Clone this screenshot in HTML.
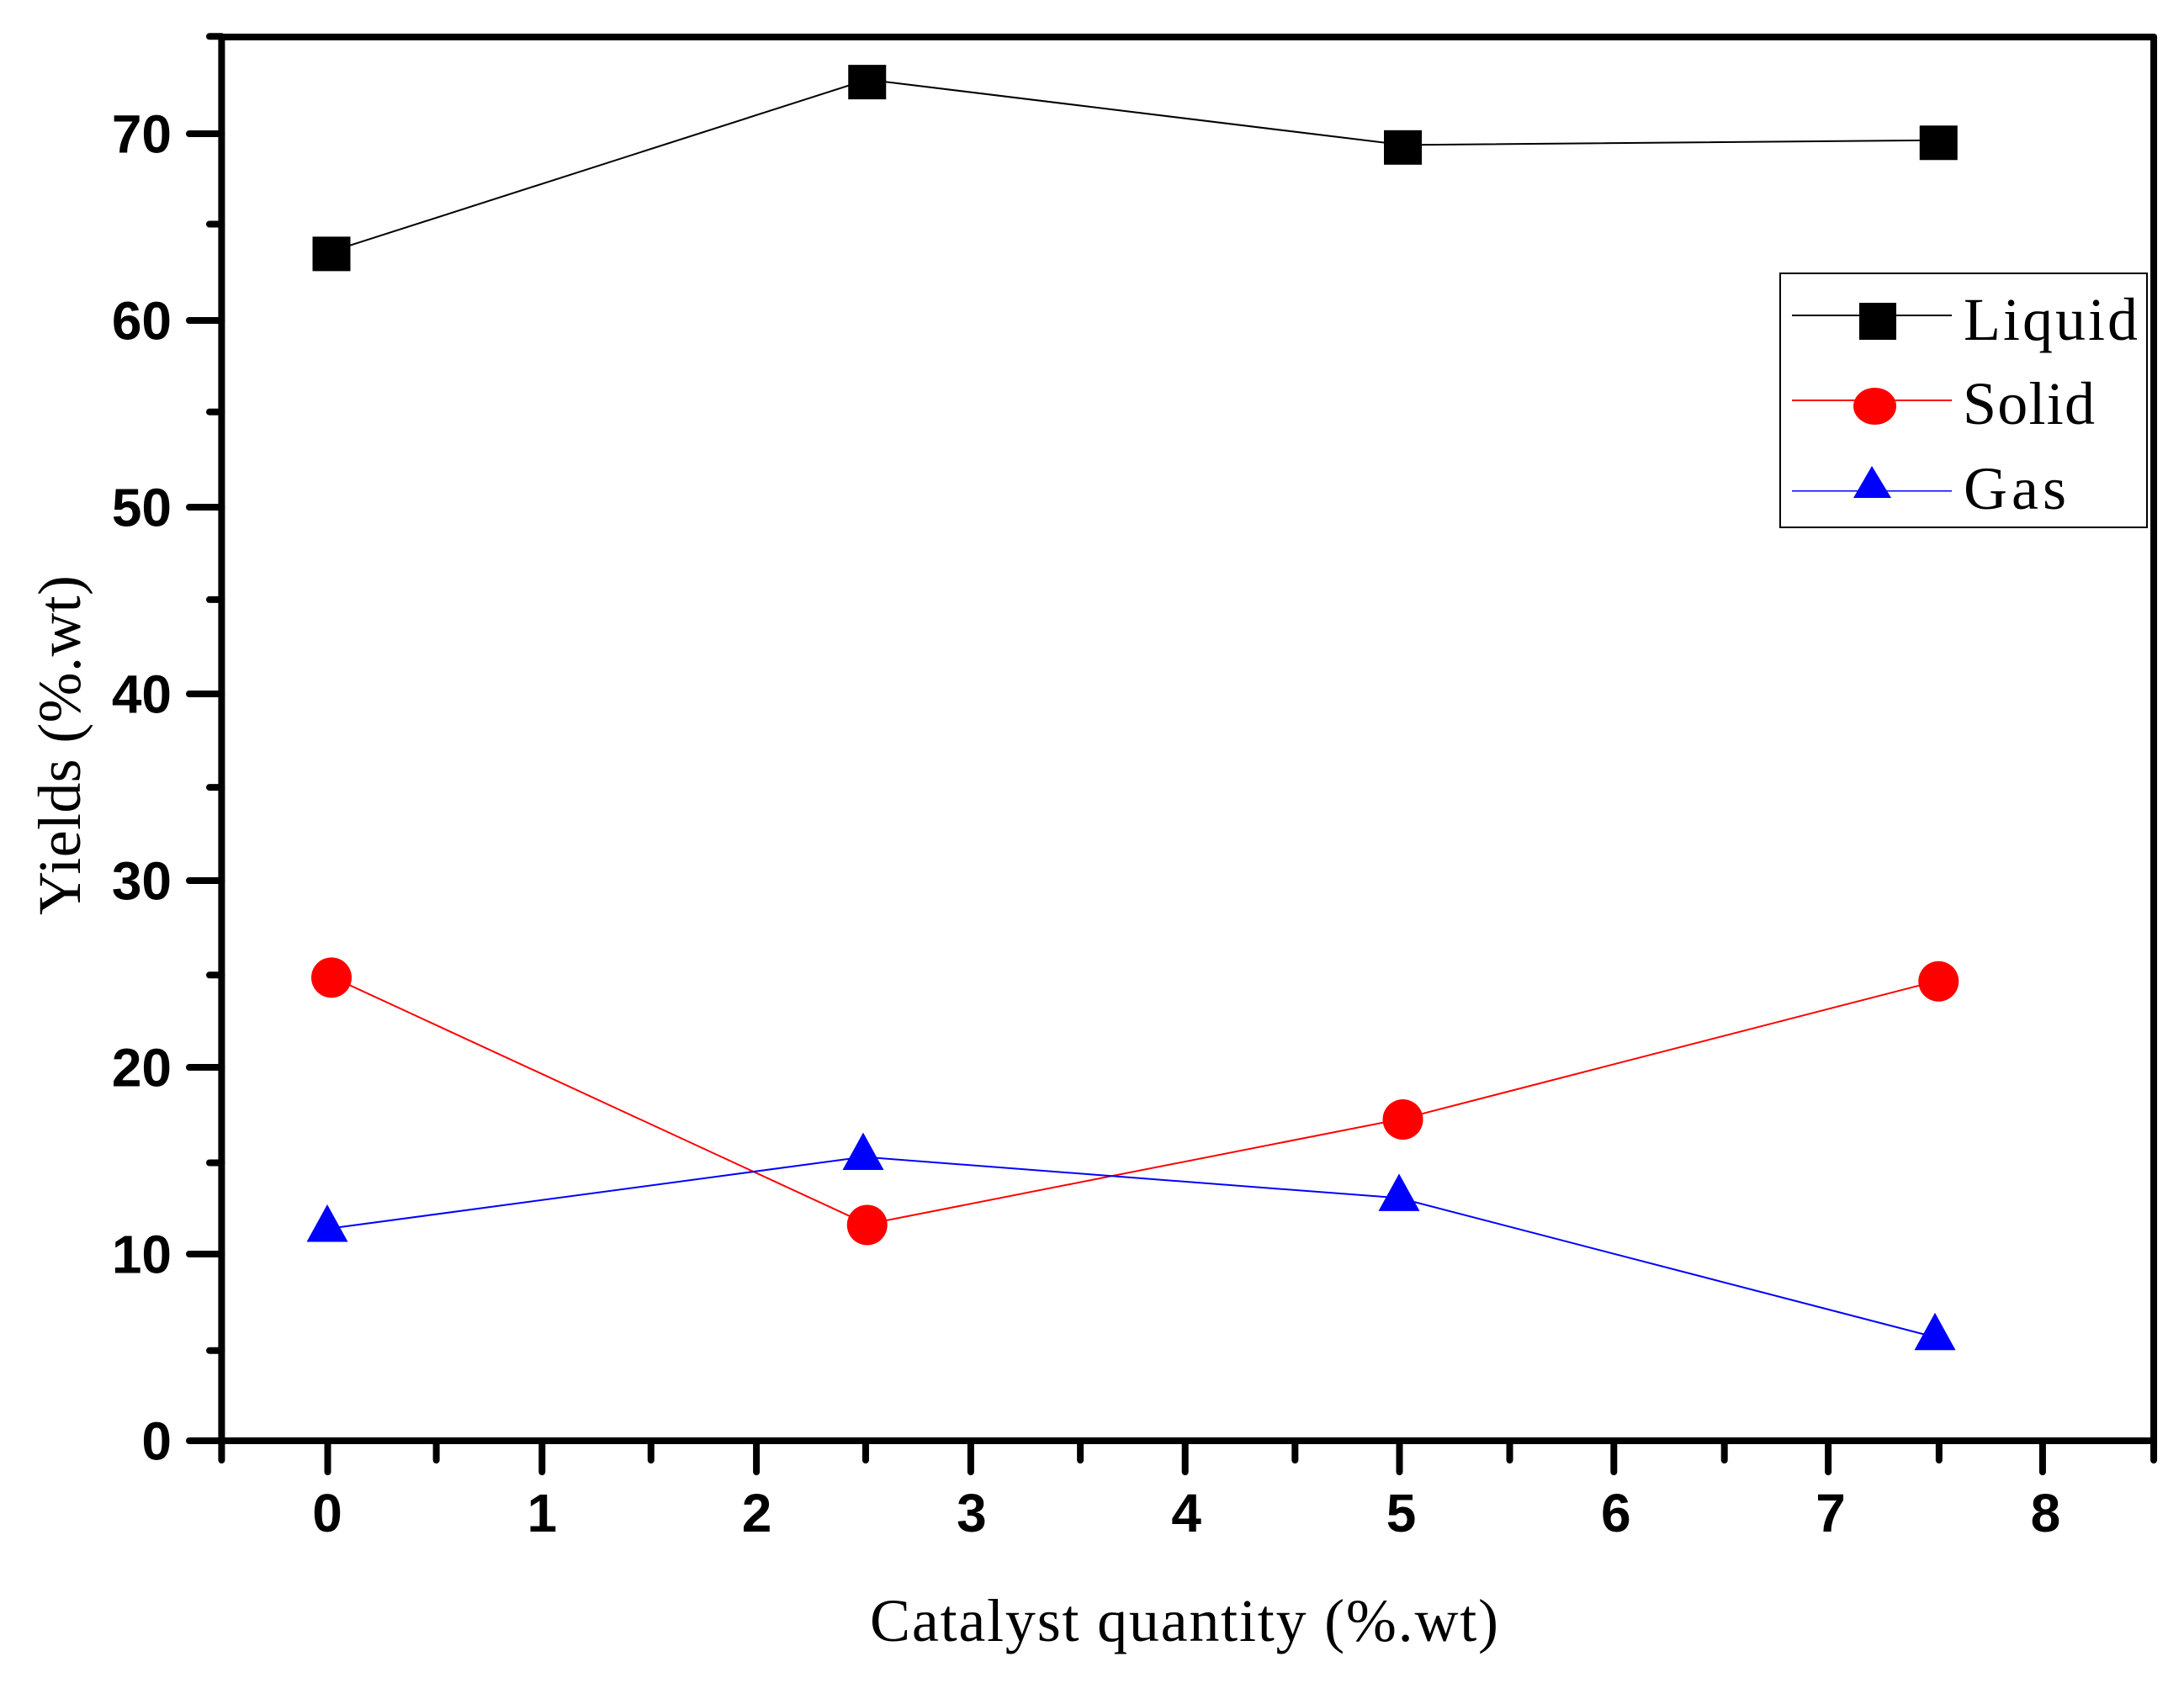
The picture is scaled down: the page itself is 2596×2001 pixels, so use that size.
<!DOCTYPE html>
<html lang="en">
<head>
<meta charset="utf-8">
<title>Yields vs catalyst quantity</title>
<style>
html,body{margin:0;padding:0;background:#fff;width:2596px;height:2001px;overflow:hidden}
svg{display:block}
.tick-label{font-family:"Liberation Sans",sans-serif;font-weight:700;font-size:64px;fill:#000}
.serif{font-family:"Liberation Serif",serif;font-size:72px;fill:#000}
</style>
</head>
<body>
<svg id="chart" xmlns="http://www.w3.org/2000/svg" width="2596" height="2001" viewBox="0 0 2596 2001">
  <rect x="0" y="0" width="2596" height="2001" fill="#fff"/>
  <g id="axes" stroke="#000" stroke-width="8" stroke-linecap="round" fill="none"></g>
  <g id="tick-labels"></g>
  <g id="series"></g>
  <text class="serif" x="1034" y="1951" textLength="747" lengthAdjust="spacing">Catalyst quantity (%.wt)</text>
  <text class="serif" transform="translate(95 1088) rotate(-90)" textLength="404" lengthAdjust="spacing">Yields (%.wt)</text>
  <g>
    <rect x="2116" y="325" width="436" height="302" fill="#fff" stroke="#000" stroke-width="2"/>
    <g>
      <line x1="2130" x2="2320" y1="375" y2="375" stroke="#000" stroke-width="2" shape-rendering="crispEdges"/>
      <rect x="2210" y="360" width="44" height="44" fill="#000"/>
      <text class="serif" x="2334" y="404" textLength="207" lengthAdjust="spacing">Liquid</text>
    </g>
    <g>
      <line x1="2130" x2="2320" y1="476" y2="476" stroke="#f00" stroke-width="2" shape-rendering="crispEdges"/>
      <ellipse cx="2228.5" cy="483" rx="25.5" ry="22" fill="#f00"/>
      <text class="serif" x="2333" y="504" textLength="157" lengthAdjust="spacing">Solid</text>
    </g>
    <g>
      <line x1="2130" x2="2320" y1="583.5" y2="583.5" stroke="#00f" stroke-width="1.5" shape-rendering="crispEdges"/>
      <polygon points="2225,554 2248,592 2203,592" fill="#00f"/>
      <text class="serif" x="2334" y="605" textLength="122" lengthAdjust="spacing">Gas</text>
    </g>
  </g>
</svg>
<script>
const xCategories = [0, 2.5, 5, 7.5];
const liquidValues = [63.7, 72.9, 69.4, 69.65];
const solidValues = [24.85, 11.6, 17.25, 24.65];
const gasValues = [11.35, 15.2, 13.0, 5.55];
const xMajorTicks = [0, 1, 2, 3, 4, 5, 6, 7, 8];
const xMinorTicks = [-0.5, 0.5, 1.5, 2.5, 3.5, 4.5, 5.5, 6.5, 7.5, 8.5];
const yMajorTicks = [0, 10, 20, 30, 40, 50, 60, 70];
const yMinorTicks = [5, 15, 25, 35, 45, 55, 65, 75];

const NS = 'http://www.w3.org/2000/svg';
function xFrame(v) { return 391 + 255.18 * v; }
function xMajor(v) { return 389.5 + 254.8 * v; }
function xLabel(v) { return 389 + 255.3 * v; }
function xPoint(v) { return 394 + 254.7 * v; }
function xTriangle(v) { return 389 + 254.8 * v; }
function yMark(v) { return 1713 - 22.2 * v; }
function yMinor(v) { return 1717.3 - 22.32 * v; }

function make(tag, parent, props) {
  const el = document.createElementNS(NS, tag);
  for (const k in props) el.setAttribute(k, props[k]);
  parent.appendChild(el);
  return el;
}

const axes = document.getElementById('axes');
const labels = document.getElementById('tick-labels');
const series = document.getElementById('series');

/* frame */
const AX_LEFT = xFrame(-0.5), AX_RIGHT = xFrame(8.5), AX_TOP = yMinor(75) + 0.7, AX_BOTTOM = yMark(0);
const frameLeft = make('line', axes, {x1: AX_LEFT, x2: AX_LEFT, y1: AX_TOP, y2: AX_BOTTOM});


const frameBottom = make('line', axes, {x1: AX_LEFT, x2: AX_RIGHT, y1: AX_BOTTOM, y2: AX_BOTTOM});


const frameTop = make('line', axes, {x1: AX_LEFT, x2: AX_RIGHT, y1: AX_TOP, y2: AX_TOP});


const frameRight = make('line', axes, {x1: AX_RIGHT, x2: AX_RIGHT, y1: AX_TOP, y2: AX_BOTTOM});



/* ticks and tick labels */
xMajorTicks.forEach(function (v) {
  const t = make('line', axes, {x1: xMajor(v), x2: xMajor(v), y1: AX_BOTTOM, y2: AX_BOTTOM + 37});
  
  
  const l = make('text', labels, {class: 'tick-label', x: xLabel(v), y: 1821, 'text-anchor': 'middle'});
  l.textContent = String(v);
  
  
});
xMinorTicks.forEach(function (v) {
  const t = make('line', axes, {x1: xFrame(v), x2: xFrame(v), y1: AX_BOTTOM, y2: AX_BOTTOM + 23});
  
  
});
yMajorTicks.forEach(function (v) {
  const t = make('line', axes, {x1: 225, x2: AX_LEFT, y1: yMark(v), y2: yMark(v)});
  
  
  const l = make('text', labels, {class: 'tick-label', x: 204, y: yMark(v) + 22.5, 'text-anchor': 'end'});
  l.textContent = String(v);
  
  
});
yMinorTicks.forEach(function (v) {
  const t = make('line', axes, {x1: 249, x2: AX_LEFT, y1: yMinor(v), y2: yMinor(v)});
  
  
});

/* series lines */
function linePoints(values, xFn) {
  return values.map(function (v, i) { return xFn(xCategories[i]) + ',' + yMark(v); }).join(' ');
}
const liquidLine = make('polyline', series, {points: linePoints(liquidValues, xPoint), fill: 'none', stroke: '#000', 'stroke-width': 2});


const solidLine = make('polyline', series, {points: linePoints(solidValues, xPoint), fill: 'none', stroke: '#f00', 'stroke-width': 2});


const gasLine = make('polyline', series, {points: linePoints(gasValues, xTriangle), fill: 'none', stroke: '#00f', 'stroke-width': 2});



/* series markers */
liquidValues.forEach(function (v, i) {
  const cx = xPoint(xCategories[i]);
  const cy = yMark(v) + 3;
  const m = make('rect', series, {x: cx - 22.5, y: cy - 20.5, width: 45, height: 41, fill: '#000'});
  
  
});
solidValues.forEach(function (v, i) {
  const cx = xPoint(xCategories[i]);
  const cy = yMark(v) + 1;
  const m = make('ellipse', series, {cx: cx, cy: cy, rx: 24, ry: 24, fill: '#f00'});
  
  
});
gasValues.forEach(function (v, i) {
  const cx = xTriangle(xCategories[i]);
  const cy = yMark(v);
  const m = make('polygon', series, {points: cx + ',' + (cy - 29) + ' ' + (cx + 24.5) + ',' + (cy + 15.5) + ' ' + (cx - 24.5) + ',' + (cy + 15.5), fill: '#00f'});
  
  
});
</script>
</body>
</html>
